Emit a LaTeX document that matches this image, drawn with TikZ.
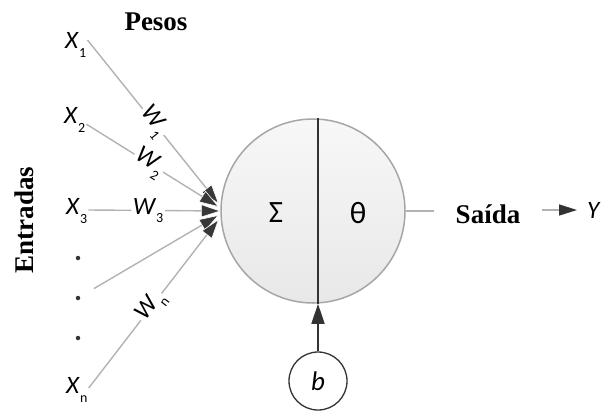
\documentclass[tikz,border=0pt]{standalone}
\usepackage{fontspec}
\setmainfont{Liberation Serif}
\newfontfamily\lblfont{Carlito}
\usetikzlibrary{arrows.meta}

% symbol with a lowered, upright subscript (subscript kept out of the node height)
\newcommand{\symsub}[2]{{\lblfont\itshape #1}\kern1pt\smash{\raisebox{-9pt}{\lblfont\fontsize{14}{14}\selectfont #2}}}
% weight symbol: subscript kept inside the box so the white fill covers it
\newcommand{\wsub}[2]{{\lblfont\itshape #1}\kern1pt\raisebox{-8pt}{\lblfont\fontsize{14}{14}\selectfont #2}}

\tikzset{
  inlabel/.style={font=\lblfont\fontsize{25}{25}\selectfont, inner sep=1pt, anchor=west},
  wlabel/.style={font=\lblfont\fontsize{25}{25}\selectfont, inner sep=1.5pt, fill=white, sloped},
  title/.style={font=\bfseries\fontsize{27}{27}\selectfont, inner sep=0pt},
  wire/.style={draw=black!30, line width=1.4pt},
  inarrow/.style={wire, -{Triangle[length=20pt,width=13pt,fill=black!78,color=white,line width=0.6pt]}},
  dotnode/.style={circle, fill=black!80, inner sep=0pt, minimum size=4.5pt},
  dark/.style={draw=black!80, line width=1.5pt},
  greek/.style={font=\lblfont\fontsize{31}{31}\selectfont},
}

\begin{document}
\begin{tikzpicture}[x=1pt,y=-1pt]
\useasboundingbox (0,0) rectangle (601,415);

% titles
\node[title] (pesos) at (156,22) {Pesos};
\node[title, rotate=90] (entradas) at (24,220) {Entradas};

% inputs
\node[inlabel] (x1) at (64,40) {\symsub{X}{1}};
\node[inlabel] (x2) at (63,115) {\symsub{X}{2}};
\node[inlabel] (x3) at (65,206) {\symsub{X}{3}};
\node[dotnode] (d1) at (78,258) {};
\node[dotnode] (d2) at (78,298) {};
\node[dotnode] (d3) at (78,338) {};
\node[inlabel] (xn) at (65,385) {\symsub{X}{n}};

% neuron
\node[circle, minimum size=184pt, inner sep=0pt, top color=black!3, bottom color=black!9,
      draw=black!35, line width=1.5pt] (neuron) at (313,211) {};
\draw[dark] ([xshift=5pt]neuron.north) -- ([xshift=5pt]neuron.south);
\node[greek] (sum) at (276,213) {Σ};
\node[greek] (act) at (358,213) {θ};

% arrow tips on the neuron boundary
\coordinate (t1) at (219,204);
\coordinate (t2) at (219,207);
\coordinate (t3) at (221,211);
\coordinate (t4) at (219,215);
\coordinate (t5) at (219,219);

% weighted connections
\draw[inarrow] (x1.east) -- node[wlabel, pos=0.5] {\wsub{W}{1}} (t1);
\draw[inarrow] (x2.south east) -- node[wlabel, pos=0.47] {\wsub{W}{2}} (t2);
\draw[inarrow] ([yshift=-4pt]x3.east) -- node[wlabel, pos=0.45] {\wsub{W}{3}} (t3);
\draw[inarrow, shorten <=16pt] (d2) -- (t4);
\draw[inarrow] ([yshift=-3pt]xn.east) -- node[wlabel, pos=0.48] {\wsub{W}{n}} (t5);

% bias
\node[circle, minimum size=58pt, inner sep=0pt, draw=black!80, line width=1.3pt, fill=white,
      font=\lblfont\itshape\fontsize{27}{27}\selectfont] (b) at (318,381) {b};
\draw[dark, -{Triangle[length=20pt,width=13pt]}] (b.north) -- ([xshift=5pt]neuron.south);

% output
\node[title] (saida) at (488,214) {Saída};
\node[font=\lblfont\itshape\fontsize{25}{25}\selectfont, inner sep=1pt, anchor=west] (y) at (586,210) {Y};
\draw[wire, shorten >=22pt] (neuron.east) -- (saida.west |- neuron.east);
\draw[wire, -{Triangle[length=18pt,width=11pt,color=black!80]}, shorten <=22pt, shorten >=9pt]
  (saida.east |- y.west) -- (y.west);
\end{tikzpicture}
\end{document}
